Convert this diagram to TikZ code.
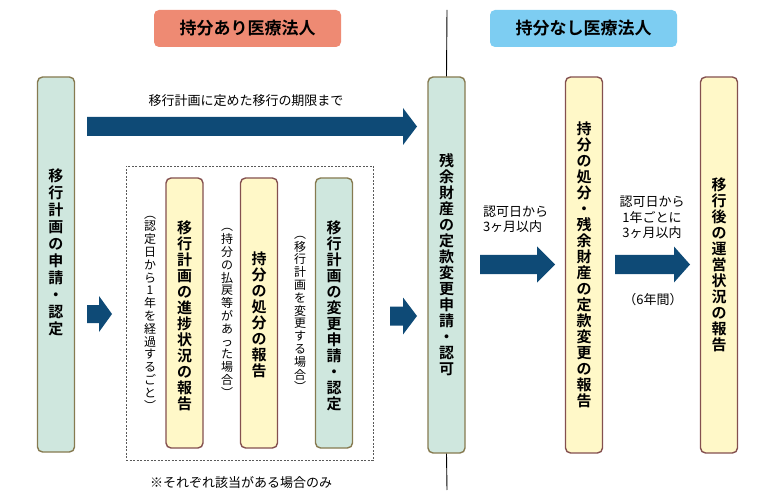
\documentclass[tikz,border=0pt]{standalone}
\usepackage{fontspec}
\setmainfont{Noto Sans CJK JP}[BoldFont={Noto Sans CJK JP Bold}]
\definecolor{boxteal}{HTML}{CFE7DE}
\definecolor{bordteal}{HTML}{867A50}
\definecolor{boxyel}{HTML}{FFF8C8}
\definecolor{bordyel}{HTML}{84504F}
\definecolor{arrowblue}{HTML}{0E4A76}
\definecolor{hdrred}{HTML}{EE8A73}
\definecolor{hdrblue}{HTML}{7DCDF2}
\newcommand\blockarrow[6]{\fill[arrowblue] ({#1},{#3-#4}) -- ({#2-#6},{#3-#4}) -- ({#2-#6},{#3-#5}) -- ({#2},{#3}) -- ({#2-#6},{#3+#5}) -- ({#2-#6},{#3+#4}) -- ({#1},{#3+#4}) -- cycle;}
\begin{document}
\begin{tikzpicture}[x=1pt,y=-1pt,
  tbox/.style={draw=bordteal, fill=boxteal, line width=1.4pt, rounded corners=5pt, minimum width=37pt, inner sep=0pt},
  ybox/.style={draw=bordyel, fill=boxyel, line width=1.4pt, rounded corners=5pt, minimum width=37pt, inner sep=0pt},
  vtxt/.style={font=\bfseries\fontsize{15}{16}\selectfont, align=center, inner sep=0pt},
  ntxt/.style={font=\fontsize{12}{12.8}\selectfont, align=center, inner sep=0pt},
  ltxt/.style={font=\fontsize{13}{15.5}\selectfont, inner sep=0pt},
  hdr/.style={rounded corners=5pt, minimum width=187pt, minimum height=37pt, inner sep=0pt, font=\bfseries\fontsize{17}{20}\selectfont}
]
\useasboundingbox (0,0) rectangle (780,500);
% headers
\node[hdr, fill=hdrred] (h1) at (247.5,28.5) {持分あり医療法人};
\node[hdr, fill=hdrblue] (h2) at (583.5,28.5) {持分なし医療法人};
% left box
\node[tbox, minimum height=375pt] (b1) at (56,264.5) {};
\node[vtxt, font=\bfseries\fontsize{15}{17}\selectfont] (t1) at (56,252) {移\\行\\計\\画\\の\\申\\請\\・\\認\\定};
% top arrow
\node[ltxt] (ttop) at (246,101) {移行計画に定めた移行の期限まで};
\blockarrow{87}{417}{126.5}{9.5}{18.5}{14}
% small arrows
\blockarrow{87}{112}{314}{9}{18}{13}
\blockarrow{390}{417}{316}{9.5}{18.5}{14}
% dashed group
\node[draw=black!65, dashed, dash pattern=on 2pt off 1.5pt, line width=0.6pt, minimum width=247pt, minimum height=294pt, inner sep=0pt] (grp) at (249.5,313) {};
\node[ybox, minimum height=270pt] (b2) at (184.5,313) {};
\node[vtxt] at (184.5,316) {移\\行\\計\\画\\の\\進\\捗\\状\\況\\の\\報\\告};
\node[ybox, minimum height=270pt] (b3) at (259,313) {};
\node[vtxt] at (259,315) {持\\分\\の\\処\\分\\の\\報\\告};
\node[tbox, minimum height=270pt] (b4) at (334,313) {};
\node[vtxt] at (334,316) {移\\行\\計\\画\\の\\変\\更\\申\\請\\・\\認\\定};
\node[ntxt] (n1) at (150,313) {︵\\認\\定\\日\\か\\ら\\1\\年\\を\\経\\過\\す\\る\\ご\\と\\︶};
\node[ntxt] (n2) at (227,313) {︵\\持\\分\\の\\払\\戻\\等\\が\\あ\\っ\\た\\場\\合\\︶};
\node[ntxt] (n3) at (300,314) {︵\\移\\行\\計\\画\\を\\変\\更\\す\\る\\場\\合\\︶};
\node[ltxt] (nb) at (241,483) {※それぞれ該当がある場合のみ};
% right part
\node[tbox, minimum height=376pt] (b5) at (446.5,265) {};
\node[vtxt] at (446.5,265) {残\\余\\財\\産\\の\\定\\款\\変\\更\\申\\請\\・\\認\\可};
\coordinate (ltop) at (447,10);
\coordinate (lbot) at (447,490);
\draw[line width=0.9pt] (ltop) -- (b5.north);
\draw[line width=0.9pt] (b5.south) -- (lbot);
\node[ybox, minimum height=376pt] (b6) at (584,265) {};
\node[vtxt] at (584,265) {持\\分\\の\\処\\分\\・\\残\\余\\財\\産\\の\\定\\款\\変\\更\\の\\報\\告};
\node[ybox, minimum height=376pt] (b7) at (719,265) {};
\node[vtxt] at (719,264.5) {移\\行\\後\\の\\運\\営\\状\\況\\の\\報\\告};
\blockarrow{480}{555}{264.5}{9.5}{18}{18}
\blockarrow{615}{690}{264.5}{9.5}{18}{16}
\node[ltxt, align=left] (l1) at (515.5,219.5) {認可日から\\3ヶ月以内};
\node[ltxt, align=center] (l2) at (652,217.5) {認可日から\\1年ごとに\\3ヶ月以内};
\node[ltxt] (l3) at (653,300) {（6年間）};
\end{tikzpicture}
\end{document}
